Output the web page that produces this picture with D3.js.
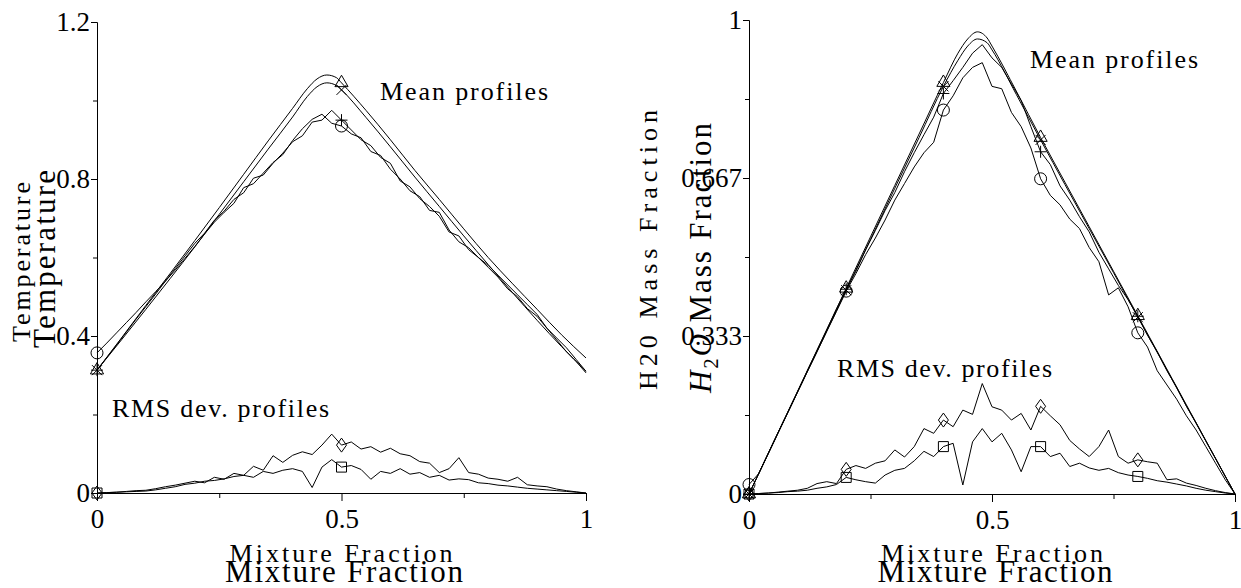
<!DOCTYPE html>
<html>
<head>
<meta charset="utf-8">
<script src="https://cdn.jsdelivr.net/npm/d3@7"></script>
<style>
body { margin: 0; background: #fff; }
svg text { font-family: "Liberation Serif", "DejaVu Serif", "Times New Roman", serif; fill: #000; }
</style>
</head>
<body>
<script>
// x grid for the sampled (noisy) profiles, step 0.02
var xGrid = d3.range(0, 51).map(function(i) { return i / 50; });
// x positions of the smooth (model) profiles
var smoothX = [0,0.05,0.1,0.15,0.2,0.25,0.3,0.35,0.4,0.43,0.45,0.47,0.49,0.5,0.55,0.6,0.65,0.7,0.75,0.8,0.85,0.9,0.95,1];

// --- Temperature panel ---
var tempTriangle = [0.313,0.395,0.478,0.56,0.643,0.727,0.812,0.897,0.98,1.03,1.055,1.065,1.058,1.045,0.975,0.9,0.822,0.748,0.673,0.6,0.533,0.468,0.403,0.344];
var tempCross    = [0.313,0.39,0.468,0.547,0.627,0.71,0.793,0.876,0.958,1.01,1.035,1.045,1.038,1.027,0.957,0.882,0.805,0.73,0.655,0.582,0.51,0.44,0.373,0.31];
var tempPlus     = [0.313,0.345,0.377,0.41,0.443,0.475,0.507,0.54,0.572,0.604,0.636,0.662,0.695,0.718,0.748,0.765,0.802,0.81,0.84,0.866,0.895,0.91,0.945,0.95,0.975,0.95,0.925,0.9,0.885,0.855,0.84,0.795,0.78,0.75,0.73,0.705,0.665,0.655,0.62,0.6,0.58,0.555,0.53,0.505,0.48,0.455,0.42,0.395,0.37,0.34,0.31];
var tempCircle   = [0.357,0.382,0.408,0.434,0.46,0.487,0.513,0.54,0.568,0.598,0.628,0.66,0.69,0.715,0.738,0.778,0.788,0.815,0.842,0.862,0.898,0.928,0.952,0.965,0.942,0.935,0.915,0.905,0.87,0.86,0.825,0.8,0.77,0.755,0.72,0.715,0.67,0.64,0.625,0.6,0.575,0.55,0.52,0.5,0.47,0.45,0.42,0.39,0.36,0.335,0.306];
var tempRmsDiamond = [0,0.001,0.002,0.004,0.006,0.007,0.011,0.016,0.02,0.025,0.03,0.026,0.04,0.035,0.05,0.045,0.068,0.058,0.095,0.078,0.096,0.105,0.098,0.122,0.15,0.122,0.13,0.112,0.118,0.104,0.114,0.1,0.095,0.08,0.076,0.052,0.062,0.09,0.052,0.048,0.038,0.035,0.03,0.04,0.021,0.018,0.016,0.01,0.006,0.003,0];
var tempRmsSquare  = [0,0.001,0.002,0.003,0.004,0.005,0.008,0.012,0.016,0.022,0.025,0.03,0.032,0.036,0.042,0.045,0.04,0.055,0.05,0.058,0.062,0.055,0.014,0.066,0.085,0.066,0.07,0.06,0.035,0.055,0.05,0.062,0.048,0.052,0.04,0.045,0.033,0.036,0.034,0.026,0.024,0.02,0.018,0.015,0.012,0.01,0.008,0.006,0.004,0.002,0];

// --- H2O panel ---
var h2oTriangle = [0,0.1085,0.217,0.3255,0.434,0.5425,0.651,0.7595,0.868,0.93,0.96,0.975,0.962,0.945,0.85,0.752,0.658,0.564,0.47,0.376,0.282,0.188,0.094,0];
var h2oCross    = [0,0.107,0.215,0.322,0.43,0.537,0.645,0.752,0.86,0.915,0.945,0.96,0.952,0.937,0.843,0.747,0.653,0.56,0.467,0.373,0.28,0.186,0.093,0];
var h2oPlus     = [0,0.043,0.087,0.13,0.173,0.216,0.26,0.303,0.346,0.39,0.432,0.47,0.515,0.556,0.598,0.636,0.68,0.72,0.758,0.795,0.845,0.872,0.9,0.93,0.948,0.92,0.9,0.865,0.83,0.775,0.722,0.695,0.65,0.62,0.585,0.553,0.51,0.475,0.44,0.41,0.375,0.335,0.3,0.26,0.225,0.185,0.15,0.112,0.075,0.037,0];
var h2oCircle   = [0.02,0.043,0.086,0.13,0.172,0.215,0.258,0.3,0.343,0.385,0.428,0.465,0.505,0.54,0.578,0.62,0.655,0.69,0.72,0.742,0.81,0.84,0.878,0.9,0.91,0.86,0.855,0.805,0.775,0.73,0.665,0.63,0.61,0.58,0.56,0.52,0.49,0.42,0.435,0.395,0.34,0.31,0.26,0.23,0.2,0.165,0.135,0.1,0.065,0.03,0];
var h2oRmsDiamond = [0,0.001,0.002,0.004,0.006,0.008,0.012,0.022,0.026,0.022,0.052,0.06,0.054,0.065,0.07,0.093,0.078,0.1,0.138,0.128,0.156,0.142,0.177,0.168,0.233,0.184,0.177,0.156,0.17,0.135,0.185,0.165,0.146,0.113,0.095,0.079,0.1,0.135,0.079,0.065,0.072,0.068,0.065,0.03,0.032,0.023,0.018,0.012,0.007,0.003,0];
var h2oRmsSquare  = [0,0.001,0.002,0.003,0.005,0.006,0.008,0.012,0.015,0.02,0.035,0.03,0.026,0.023,0.04,0.05,0.054,0.07,0.09,0.079,0.1,0.107,0.019,0.11,0.138,0.11,0.128,0.093,0.047,0.1,0.1,0.079,0.086,0.058,0.065,0.055,0.05,0.054,0.045,0.04,0.037,0.033,0.028,0.025,0.021,0.017,0.012,0.008,0.005,0.002,0];

// ticks
var xTicks = [0, 0.5, 1];
var xTickLabels = ["0", "0.5", "1"];
var xMinor = [0.25, 0.75];
var tempTicks = [0, 0.4, 0.8, 1.2];
var tempTickLabels = ["0", "0.4", "0.8", "1.2"];
var tempMinor = [0.2, 0.6, 1.0];
var h2oTicks = [0, 1/3, 2/3, 1];
var h2oTickLabels = ["0", "0.333", "0.667", "1"];
var h2oMinor = [1/6, 0.5, 5/6];
var tempMarkAt = [0, 0.5];
var h2oMarkAt = [0, 0.2, 0.4, 0.6, 0.8];

var svg = d3.select("body").append("svg")
  .attr("width", 1241)
  .attr("height", 588);

var markerPaths = {
  circle: d3.symbol().type(d3.symbolCircle).size(113)(),
  triangle: d3.symbol().type(d3.symbolTriangle).size(75)(),
  square: d3.symbol().type(d3.symbolSquare).size(100)(),
  diamond: "M0,-7L5,0L0,7L-5,0Z",
  plus: "M-6,0H6M0,-6V6",
  cross: "M-5,-5L5,5M-5,5L5,-5"
};

function styleAxis(sel) {
  sel.attr("font-family", null).attr("font-size", null);
  sel.selectAll("path, line").attr("stroke", "#000").attr("stroke-width", 1);
  sel.selectAll("text").style("font-size", "27px");
}

function addText(g, t) {
  var el = g.append("text")
    .attr("transform", "translate(" + t.x + "," + t.y + ")" + (t.rot ? " rotate(-90)" : ""))
    .attr("text-anchor", t.anchor || "start")
    .style("font-size", t.size + "px");
  if (t.len) el.attr("textLength", t.len).attr("lengthAdjust", "spacing");
  if (t.parts) {
    t.parts.forEach(function(p) {
      var ts = el.append("tspan").text(p.t);
      if (p.italic) ts.style("font-style", "italic");
      if (p.size) ts.style("font-size", p.size + "px");
      if (p.dy) ts.attr("dy", p.dy);
    });
  } else {
    el.text(t.text);
  }
}

function drawPanel(p) {
  var x = d3.scaleLinear().domain([0, 1]).range([p.x0, p.x1]);
  var y = d3.scaleLinear().domain([0, p.ymax]).range([p.y0, p.y1]);
  var g = svg.append("g");

  // x axis
  g.append("g").attr("transform", "translate(0," + p.y0 + ")")
    .call(d3.axisBottom(x).tickValues(xTicks).tickFormat(function(d, i) { return xTickLabels[i]; })
      .tickSize(8).tickSizeOuter(0).tickPadding(8))
    .call(styleAxis);
  g.append("g").attr("transform", "translate(0," + p.y0 + ")")
    .call(d3.axisBottom(x).tickValues(xMinor).tickFormat("").tickSize(5).tickSizeOuter(0))
    .call(styleAxis);

  // y axis
  g.append("g").attr("transform", "translate(" + p.x0 + ",0)")
    .call(d3.axisLeft(y).tickValues(p.yTicks).tickFormat(function(d, i) { return p.yTickLabels[i]; })
      .tickSize(6).tickSizeOuter(0).tickPadding(1))
    .call(styleAxis);
  g.append("g").attr("transform", "translate(" + p.x0 + ",0)")
    .call(d3.axisLeft(y).tickValues(p.yMinor).tickFormat("").tickSize(4).tickSizeOuter(0))
    .call(styleAxis);

  // profiles
  p.series.forEach(function(s) {
    var xs = s.smooth ? smoothX : xGrid;
    var line = d3.line()
      .x(function(d, i) { return x(xs[i]); })
      .y(function(d) { return y(d); })
      .curve(s.smooth ? d3.curveMonotoneX : d3.curveLinear);
    g.append("path").datum(s.values)
      .attr("d", line)
      .attr("fill", "none")
      .attr("stroke", "#000")
      .attr("stroke-width", 1);

    p.markAt.forEach(function(mx) {
      var i = d3.minIndex(xs, function(v) { return Math.abs(v - mx); });
      g.append("path")
        .attr("d", markerPaths[s.marker])
        .attr("transform", "translate(" + x(xs[i]) + "," + y(s.values[i]) + ")")
        .attr("fill", "none")
        .attr("stroke", "#000")
        .attr("stroke-width", 1);
    });
  });

  p.texts.forEach(function(t) { addText(g, t); });
}

drawPanel({
  x0: 97, x1: 586, y0: 493, y1: 22, ymax: 1.2,
  yTicks: tempTicks, yTickLabels: tempTickLabels, yMinor: tempMinor,
  markAt: tempMarkAt,
  series: [
    { values: tempTriangle, smooth: true, marker: "triangle" },
    { values: tempCross, smooth: true, marker: "cross" },
    { values: tempPlus, marker: "plus" },
    { values: tempCircle, marker: "circle" },
    { values: tempRmsDiamond, marker: "diamond" },
    { values: tempRmsSquare, marker: "square" }
  ],
  texts: [
    { text: "Mean profiles", x: 380, y: 100, size: 26, len: 168 },
    { text: "RMS dev. profiles", x: 112, y: 417, size: 26, len: 217 },
    { text: "Mixture Fraction", x: 341, y: 562, size: 26, len: 223, anchor: "middle" },
    { text: "Mixture Fraction", x: 344, y: 582, size: 31, len: 238, anchor: "middle" },
    { text: "Temperature", x: 30, y: 262, size: 26, len: 160, anchor: "middle", rot: true },
    { text: "Temperature", x: 55, y: 259, size: 31, len: 178, anchor: "middle", rot: true }
  ]
});

drawPanel({
  x0: 749, x1: 1235, y0: 494, y1: 20, ymax: 1,
  yTicks: h2oTicks, yTickLabels: h2oTickLabels, yMinor: h2oMinor,
  markAt: h2oMarkAt,
  series: [
    { values: h2oTriangle, smooth: true, marker: "triangle" },
    { values: h2oCross, smooth: true, marker: "cross" },
    { values: h2oPlus, marker: "plus" },
    { values: h2oCircle, marker: "circle" },
    { values: h2oRmsDiamond, marker: "diamond" },
    { values: h2oRmsSquare, marker: "square" }
  ],
  texts: [
    { text: "Mean profiles", x: 1030, y: 68, size: 26, len: 168 },
    { text: "RMS dev. profiles", x: 837, y: 377, size: 26, len: 215 },
    { text: "Mixture Fraction", x: 992, y: 562, size: 26, len: 222, anchor: "middle" },
    { text: "Mixture Fraction", x: 995, y: 582, size: 31, len: 235, anchor: "middle" },
    { text: "H20 Mass Fraction", x: 657, y: 250, size: 26, len: 280, anchor: "middle", rot: true },
    { x: 711, y: 258, size: 31, len: 270, anchor: "middle", rot: true,
      parts: [ { t: "H", italic: true }, { t: "2", size: 21, dy: 7 }, { t: "O", italic: true, dy: -7 }, { t: " Mass Fraction" } ] }
  ]
});
</script>
</body>
</html>
